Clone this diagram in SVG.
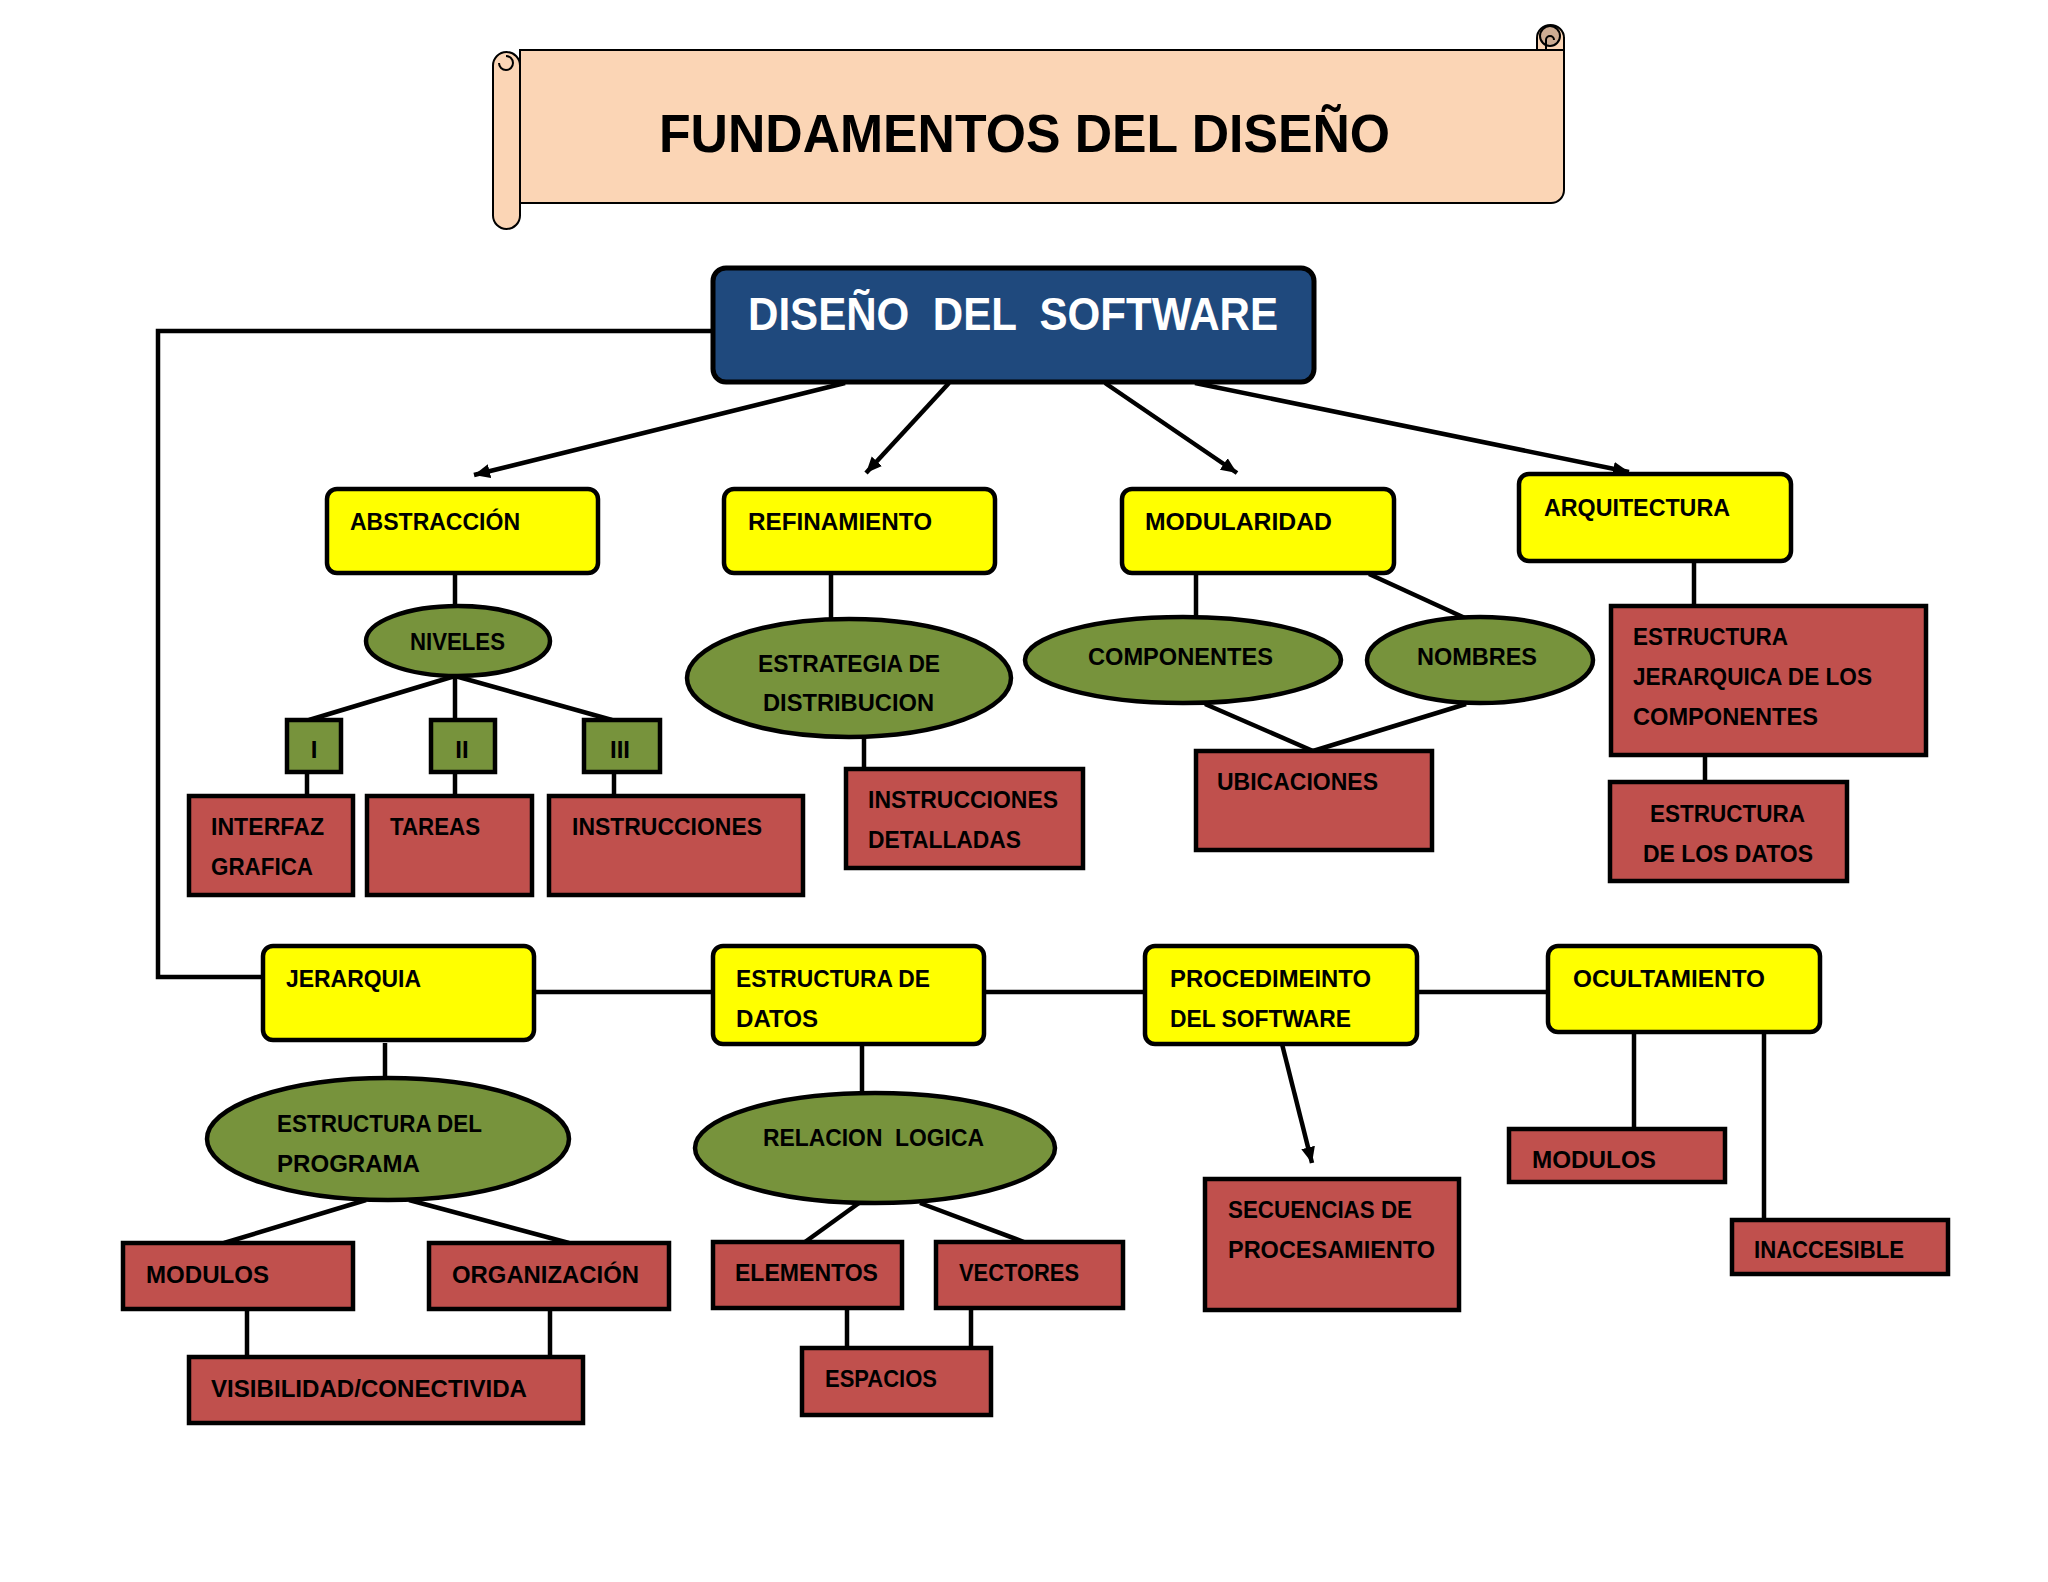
<svg xmlns="http://www.w3.org/2000/svg" width="2048" height="1582" viewBox="0 0 2048 1582">
<style>
  text { font-family: "Liberation Sans", Arial, sans-serif; font-weight: bold; fill: #000; white-space: pre; }
  .t { font-size: 24px; }
  .yel { fill: #FFFF00; stroke: #000; stroke-width: 4.5; }
  .red { fill: #C0504D; stroke: #000; stroke-width: 4.5; }
  .grn { fill: #77933C; stroke: #000; stroke-width: 4.5; }
  .ln { stroke: #000; stroke-width: 4.5; fill: none; }
  .arr { stroke: #000; stroke-width: 4.5; fill: none; marker-end: url(#ah); }
</style>
<defs>
  <marker id="ah" markerUnits="userSpaceOnUse" markerWidth="18" markerHeight="16" refX="16" refY="8" orient="auto">
    <path d="M0,1 L16,8 L0,15 Z" fill="#000"/>
  </marker>
</defs>
<rect width="2048" height="1582" fill="#fff"/>

<!-- Title scroll -->
<g id="title">
  <path d="M520,50 L1550,50 L1550,38 A13,13 0 0 1 1564,38 L1564,190 A13,13 0 0 1 1551,203 L520,203 Z" fill="#FBD5B5" stroke="#000" stroke-width="2"/>
  <path d="M1537,38 A13.5,13 0 0 1 1564,38 L1564,50 L1537,50 Z" fill="#FBD5B5" stroke="#000" stroke-width="2"/>
  <circle cx="1550" cy="36" r="10" fill="#CDAC93" stroke="#000" stroke-width="2"/>
  <path d="M1546,50 L1546,40 A4,4 0 0 1 1554,40" fill="none" stroke="#000" stroke-width="2"/>
  <rect x="493" y="52" width="27" height="177" rx="13.5" fill="#FBD5B5" stroke="#000" stroke-width="2"/>
  <path d="M506,56 A7,7 0 0 1 513,63 A7,7 0 0 1 506,70 A7,7 0 0 1 499,63" fill="none" stroke="#000" stroke-width="2"/>
  <text x="659" y="152" font-size="54" textLength="731" lengthAdjust="spacingAndGlyphs">FUNDAMENTOS DEL DISEÑO</text>
</g>

<!-- Connectors -->
<g id="connectors">
  <path class="ln" d="M713,331 L158,331 L158,977 L263,977"/>
  <line class="arr" x1="845" y1="383" x2="474" y2="475"/>
  <line class="arr" x1="949" y1="383" x2="866" y2="473"/>
  <line class="arr" x1="1105" y1="383" x2="1237" y2="473"/>
  <line class="arr" x1="1195" y1="383" x2="1629" y2="472"/>
  <!-- abstraccion -->
  <line class="ln" x1="455" y1="573" x2="455" y2="606"/>
  <line class="ln" x1="455" y1="676" x2="309" y2="720"/>
  <line class="ln" x1="455" y1="676" x2="455" y2="720"/>
  <line class="ln" x1="455" y1="676" x2="612" y2="720"/>
  <line class="ln" x1="307" y1="772" x2="307" y2="796"/>
  <line class="ln" x1="455" y1="772" x2="455" y2="796"/>
  <line class="ln" x1="614" y1="772" x2="614" y2="796"/>
  <!-- refinamiento -->
  <line class="ln" x1="831" y1="573" x2="831" y2="619"/>
  <line class="ln" x1="864" y1="737" x2="864" y2="769"/>
  <!-- modularidad -->
  <line class="ln" x1="1196" y1="573" x2="1196" y2="618"/>
  <line class="ln" x1="1369" y1="574" x2="1465" y2="618"/>
  <line class="ln" x1="1205" y1="704" x2="1313" y2="751"/>
  <line class="ln" x1="1466" y1="704" x2="1313" y2="751"/>
  <!-- arquitectura -->
  <line class="ln" x1="1694" y1="561" x2="1694" y2="606"/>
  <line class="ln" x1="1705" y1="757" x2="1705" y2="782"/>
  <!-- bottom row horizontal -->
  <line class="ln" x1="534" y1="992" x2="713" y2="992"/>
  <line class="ln" x1="984" y1="992" x2="1145" y2="992"/>
  <line class="ln" x1="1417" y1="992" x2="1548" y2="992"/>
  <!-- jerarquia -->
  <line class="ln" x1="385" y1="1043" x2="385" y2="1078"/>
  <line class="ln" x1="366" y1="1200" x2="224" y2="1243"/>
  <line class="ln" x1="409" y1="1200" x2="569" y2="1243"/>
  <line class="ln" x1="247" y1="1309" x2="247" y2="1357"/>
  <line class="ln" x1="550" y1="1309" x2="550" y2="1357"/>
  <!-- estructura de datos -->
  <line class="ln" x1="862" y1="1044" x2="862" y2="1093"/>
  <line class="ln" x1="859" y1="1203" x2="805" y2="1242"/>
  <line class="ln" x1="920" y1="1203" x2="1024" y2="1242"/>
  <line class="ln" x1="847" y1="1308" x2="847" y2="1348"/>
  <line class="ln" x1="971" y1="1308" x2="971" y2="1348"/>
  <!-- procedimiento -->
  <line class="arr" x1="1282" y1="1044" x2="1312" y2="1163"/>
  <!-- ocultamiento -->
  <line class="ln" x1="1634" y1="1031" x2="1634" y2="1129"/>
  <line class="ln" x1="1764" y1="1031" x2="1764" y2="1220"/>
</g>

<!-- Root -->
<g id="diseno">
  <rect x="713" y="268" width="601" height="114" rx="13" fill="#1F497D" stroke="#000" stroke-width="5"/>
  <text x="748" y="330" font-size="46" xml:space="preserve" style="fill:#fff" textLength="530" lengthAdjust="spacingAndGlyphs">DISEÑO  DEL  SOFTWARE</text>
</g>

<!-- Yellow concept boxes -->
<g id="abstraccion"><rect class="yel" x="327" y="489" width="271" height="84" rx="10"/><text class="t" x="350" y="530" textLength="170" lengthAdjust="spacingAndGlyphs">ABSTRACCIÓN</text></g>
<g id="refinamiento"><rect class="yel" x="724" y="489" width="271" height="84" rx="10"/><text class="t" x="748" y="530" textLength="184" lengthAdjust="spacingAndGlyphs">REFINAMIENTO</text></g>
<g id="modularidad"><rect class="yel" x="1122" y="489" width="272" height="84" rx="10"/><text class="t" x="1145" y="530" textLength="187" lengthAdjust="spacingAndGlyphs">MODULARIDAD</text></g>
<g id="arquitectura"><rect class="yel" x="1519" y="474" width="272" height="87" rx="10"/><text class="t" x="1544" y="516" textLength="186" lengthAdjust="spacingAndGlyphs">ARQUITECTURA</text></g>

<g id="jerarquia"><rect class="yel" x="263" y="946" width="271" height="94" rx="10"/><text class="t" x="286" y="987" textLength="135" lengthAdjust="spacingAndGlyphs">JERARQUIA</text></g>
<g id="estructura-datos"><rect class="yel" x="713" y="946" width="271" height="98" rx="10"/><text class="t" x="736" y="987" textLength="194" lengthAdjust="spacingAndGlyphs">ESTRUCTURA DE</text><text class="t" x="736" y="1027" textLength="82" lengthAdjust="spacingAndGlyphs">DATOS</text></g>
<g id="procedimiento"><rect class="yel" x="1145" y="946" width="272" height="98" rx="10"/><text class="t" x="1170" y="987" textLength="201" lengthAdjust="spacingAndGlyphs">PROCEDIMEINTO</text><text class="t" x="1170" y="1027" textLength="181" lengthAdjust="spacingAndGlyphs">DEL SOFTWARE</text></g>
<g id="ocultamiento"><rect class="yel" x="1548" y="946" width="272" height="86" rx="10"/><text class="t" x="1573" y="987" textLength="192" lengthAdjust="spacingAndGlyphs">OCULTAMIENTO</text></g>

<!-- Green ellipses -->
<g id="niveles"><ellipse class="grn" cx="458" cy="641" rx="92" ry="35"/><text class="t" x="410" y="650" textLength="95" lengthAdjust="spacingAndGlyphs">NIVELES</text></g>
<g id="estrategia"><ellipse class="grn" cx="849" cy="678" rx="162" ry="59"/><text class="t" x="758" y="672" textLength="182" lengthAdjust="spacingAndGlyphs">ESTRATEGIA DE</text><text class="t" x="763" y="711" textLength="171" lengthAdjust="spacingAndGlyphs">DISTRIBUCION</text></g>
<g id="componentes"><ellipse class="grn" cx="1183" cy="660" rx="158" ry="43"/><text class="t" x="1088" y="665" textLength="185" lengthAdjust="spacingAndGlyphs">COMPONENTES</text></g>
<g id="nombres"><ellipse class="grn" cx="1480" cy="660" rx="113" ry="43"/><text class="t" x="1417" y="665" textLength="120" lengthAdjust="spacingAndGlyphs">NOMBRES</text></g>
<g id="estructura-programa"><ellipse class="grn" cx="388" cy="1139" rx="181" ry="61"/><text class="t" x="277" y="1132" textLength="205" lengthAdjust="spacingAndGlyphs">ESTRUCTURA DEL</text><text class="t" x="277" y="1172" textLength="143" lengthAdjust="spacingAndGlyphs">PROGRAMA</text></g>
<g id="relacion-logica"><ellipse class="grn" cx="875" cy="1148" rx="180" ry="55"/><text class="t" x="763" y="1146" xml:space="preserve" textLength="221" lengthAdjust="spacingAndGlyphs">RELACION  LOGICA</text></g>

<!-- Level boxes -->
<g id="nivel-1"><rect class="grn" x="287" y="720" width="54" height="52"/><text class="t" x="314" y="758" text-anchor="middle">I</text></g>
<g id="nivel-2"><rect class="grn" x="431" y="720" width="64" height="52"/><text class="t" x="462" y="758" text-anchor="middle">II</text></g>
<g id="nivel-3"><rect class="grn" x="584" y="720" width="76" height="52"/><text class="t" x="620" y="758" text-anchor="middle">III</text></g>

<!-- Red boxes -->
<g id="interfaz"><rect class="red" x="189" y="796" width="164" height="99"/><text class="t" x="211" y="835" textLength="113" lengthAdjust="spacingAndGlyphs">INTERFAZ</text><text class="t" x="211" y="875" textLength="102" lengthAdjust="spacingAndGlyphs">GRAFICA</text></g>
<g id="tareas"><rect class="red" x="367" y="796" width="165" height="99"/><text class="t" x="390" y="835" textLength="90" lengthAdjust="spacingAndGlyphs">TAREAS</text></g>
<g id="instrucciones"><rect class="red" x="549" y="796" width="254" height="99"/><text class="t" x="572" y="835" textLength="190" lengthAdjust="spacingAndGlyphs">INSTRUCCIONES</text></g>
<g id="instrucciones-detalladas"><rect class="red" x="846" y="769" width="237" height="99"/><text class="t" x="868" y="808" textLength="190" lengthAdjust="spacingAndGlyphs">INSTRUCCIONES</text><text class="t" x="868" y="848" textLength="153" lengthAdjust="spacingAndGlyphs">DETALLADAS</text></g>
<g id="ubicaciones"><rect class="red" x="1196" y="751" width="236" height="99"/><text class="t" x="1217" y="790" textLength="161" lengthAdjust="spacingAndGlyphs">UBICACIONES</text></g>
<g id="estructura-jerarquica"><rect class="red" x="1611" y="606" width="315" height="149"/><text class="t" x="1633" y="645" textLength="155" lengthAdjust="spacingAndGlyphs">ESTRUCTURA</text><text class="t" x="1633" y="685" textLength="239" lengthAdjust="spacingAndGlyphs">JERARQUICA DE LOS</text><text class="t" x="1633" y="725" textLength="185" lengthAdjust="spacingAndGlyphs">COMPONENTES</text></g>
<g id="estructura-datos-2"><rect class="red" x="1610" y="782" width="237" height="99"/><text class="t" x="1650" y="822" textLength="155" lengthAdjust="spacingAndGlyphs">ESTRUCTURA</text><text class="t" x="1643" y="862" textLength="170" lengthAdjust="spacingAndGlyphs">DE LOS DATOS</text></g>

<g id="modulos"><rect class="red" x="123" y="1243" width="230" height="66"/><text class="t" x="146" y="1283" textLength="123" lengthAdjust="spacingAndGlyphs">MODULOS</text></g>
<g id="organizacion"><rect class="red" x="429" y="1243" width="240" height="66"/><text class="t" x="452" y="1283" textLength="187" lengthAdjust="spacingAndGlyphs">ORGANIZACIÓN</text></g>
<g id="visibilidad"><rect class="red" x="189" y="1357" width="394" height="66"/><text class="t" x="211" y="1397" textLength="316" lengthAdjust="spacingAndGlyphs">VISIBILIDAD/CONECTIVIDA</text></g>
<g id="elementos"><rect class="red" x="713" y="1242" width="189" height="66"/><text class="t" x="735" y="1281" textLength="143" lengthAdjust="spacingAndGlyphs">ELEMENTOS</text></g>
<g id="vectores"><rect class="red" x="936" y="1242" width="187" height="66"/><text class="t" x="959" y="1281" textLength="120" lengthAdjust="spacingAndGlyphs">VECTORES</text></g>
<g id="espacios"><rect class="red" x="802" y="1348" width="189" height="67"/><text class="t" x="825" y="1387" textLength="112" lengthAdjust="spacingAndGlyphs">ESPACIOS</text></g>
<g id="secuencias"><rect class="red" x="1205" y="1179" width="254" height="131"/><text class="t" x="1228" y="1218" textLength="184" lengthAdjust="spacingAndGlyphs">SECUENCIAS DE</text><text class="t" x="1228" y="1258" textLength="207" lengthAdjust="spacingAndGlyphs">PROCESAMIENTO</text></g>
<g id="modulos-2"><rect class="red" x="1509" y="1129" width="216" height="53"/><text class="t" x="1532" y="1168" textLength="124" lengthAdjust="spacingAndGlyphs">MODULOS</text></g>
<g id="inaccesible"><rect class="red" x="1732" y="1220" width="216" height="54"/><text class="t" x="1754" y="1258" textLength="150" lengthAdjust="spacingAndGlyphs">INACCESIBLE</text></g>
</svg>
